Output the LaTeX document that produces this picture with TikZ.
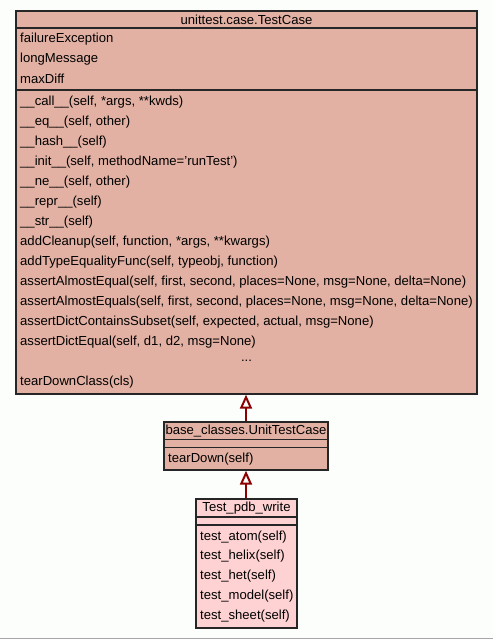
\documentclass[tikz,border=0pt]{standalone}
\usepackage{fontspec}
\setmainfont{Liberation Sans}
\usetikzlibrary{arrows.meta}
\definecolor{bgc}{RGB}{252,254,252}
\definecolor{boxa}{RGB}{227,177,163}
\definecolor{boxb}{RGB}{254,210,210}
\definecolor{edgec}{RGB}{139,0,0}
\tikzset{
  x=1pt, y=-1pt,
  classbox/.style={draw=black!85, line width=1.3pt},
  sepline/.style={draw=black!85, line width=1.3pt},
  lbl/.style={anchor=west, inner sep=0pt, font=\fontsize{13.1}{15}\selectfont},
  ttl/.style={anchor=center, inner sep=0pt, font=\fontsize{13.1}{15}\selectfont},
  inherit/.style={draw=edgec, line width=2.2pt, -{Triangle[open, length=14pt, width=12pt, line width=2pt]}}
}
\begin{document}
\begin{tikzpicture}
\fill[bgc] (0,0) rectangle (493,639);
\useasboundingbox (0,0) rectangle (493,639);
\draw[black!35, line width=1pt] (0,638.5) -- (493,638.5);
% --- box 1
\fill[boxa] (16,11) rectangle (477,394);
\node[ttl] (t1) at (246.5,20) {unittest.case.TestCase};
\draw[sepline] (16,28) -- (477,28);
\draw[sepline] (16,90) -- (477,90);
\node[lbl] (a1) at (20,39) {failureException};
\node[lbl] (a2) at (20,59) {longMessage};
\node[lbl] (a3) at (20,79) {maxDiff};
\node[lbl] (m1) at (20,102) {\_\_call\_\_(self, *args, **kwds)};
\node[lbl] (m2) at (20,122) {\_\_eq\_\_(self, other)};
\node[lbl] (m3) at (20,142) {\_\_hash\_\_(self)};
\node[lbl] (m4) at (20,162) {\_\_init\_\_(self, methodName='runTest')};
\node[lbl] (m5) at (20,182) {\_\_ne\_\_(self, other)};
\node[lbl] (m6) at (20,202) {\_\_repr\_\_(self)};
\node[lbl] (m7) at (20,222) {\_\_str\_\_(self)};
\node[lbl] (m8) at (20,242) {addCleanup(self, function, *args, **kwargs)};
\node[lbl] (m9) at (20,262) {addTypeEqualityFunc(self, typeobj, function)};
\node[lbl] (m10) at (20,282) {assertAlmostEqual(self, first, second, places=None, msg=None, delta=None)};
\node[lbl] (m11) at (20,302) {assertAlmostEquals(self, first, second, places=None, msg=None, delta=None)};
\node[lbl] (m12) at (20,322) {assertDictContainsSubset(self, expected, actual, msg=None)};
\node[lbl] (m13) at (20,342) {assertDictEqual(self, d1, d2, msg=None)};
\node[ttl] (m14) at (246.5,360.5) {...};
\node[lbl] (m15) at (20,382) {tearDownClass(cls)};
\node[classbox, fill=none, minimum width=461pt, minimum height=383pt, inner sep=0pt] (c1) at (246.5,202.5) {};
% --- box 2
\fill[boxa] (164,422) rectangle (328,470);
\node[ttl] (t2) at (246,431) {base\_classes.UnitTestCase};
\draw[sepline] (164,439.5) -- (328,439.5);
\draw[sepline] (164,447.5) -- (328,447.5);
\node[lbl] (n1) at (168,459) {tearDown(self)};
\node[classbox, fill=none, minimum width=164pt, minimum height=48pt, inner sep=0pt] (c2) at (246,446) {};
% --- box 3
\fill[boxb] (196,499) rectangle (297,628);
\node[ttl] (t3) at (246.5,508) {Test\_pdb\_write};
\draw[sepline] (196,517) -- (297,517);
\draw[sepline] (196,525) -- (297,525);
\node[lbl] (p1) at (200,537) {test\_atom(self)};
\node[lbl] (p2) at (200,556) {test\_helix(self)};
\node[lbl] (p3) at (200,576) {test\_het(self)};
\node[lbl] (p4) at (200,596) {test\_model(self)};
\node[lbl] (p5) at (200,616) {test\_sheet(self)};
\node[classbox, fill=none, minimum width=101pt, minimum height=129pt, inner sep=0pt] (c3) at (246.5,563.5) {};
% --- inheritance
\draw[inherit] (c2.north -| 246,0) -- (c1.south -| 246,0);
\draw[inherit] (c3.north -| 246,0) -- (c2.south -| 246,0);
\end{tikzpicture}
\end{document}
